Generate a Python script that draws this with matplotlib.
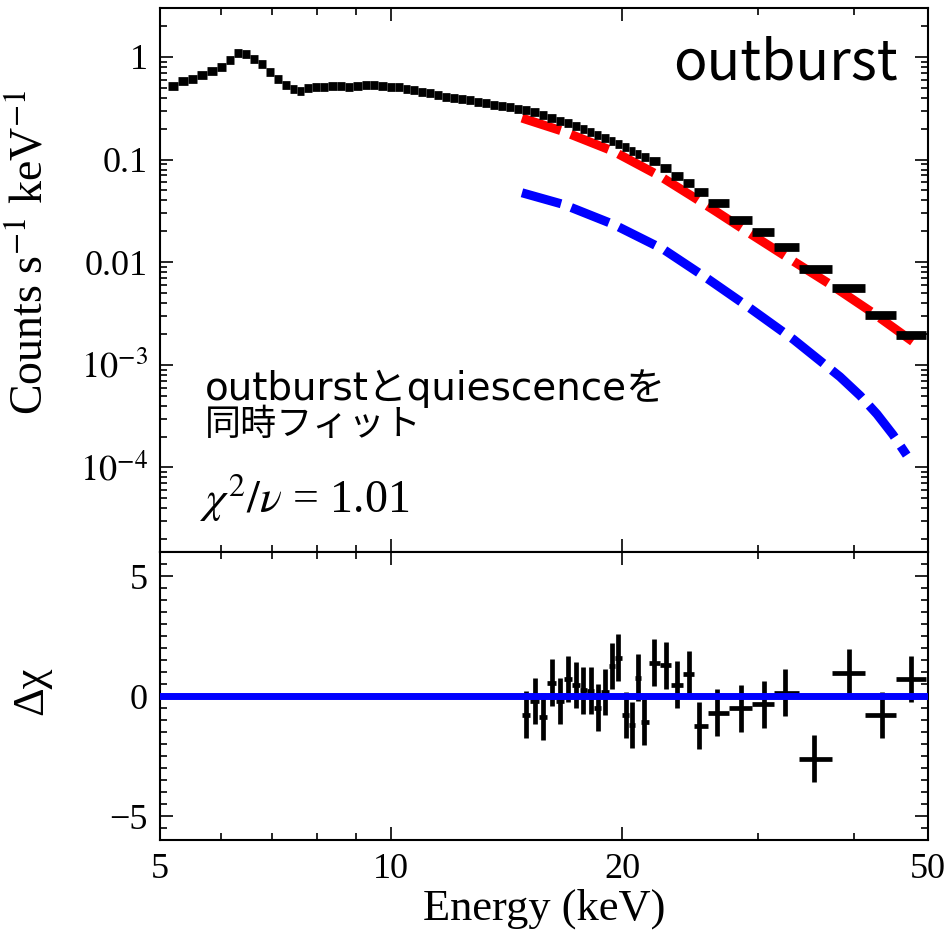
import numpy as np
import matplotlib.pyplot as plt
from matplotlib.ticker import FixedLocator, FixedFormatter, MultipleLocator, LogLocator, NullFormatter

plt.rcParams['font.family'] = ['Liberation Serif', 'DejaVu Serif']
plt.rcParams['mathtext.fontset'] = 'stix'

# spectrum below the fit range (keV, counts/s/keV)
e_lo = [5.20, 5.36, 5.51, 5.67, 5.84, 6.01, 6.17, 6.32, 6.47, 6.63,
        6.80, 6.96, 7.12, 7.29, 7.46, 7.61, 7.78, 7.98, 8.17, 8.39,
        8.60, 8.81, 9.04, 9.27, 9.49, 9.74, 9.99, 10.23, 10.47, 10.70,
        10.96, 11.23, 11.50, 11.78, 12.07, 12.36, 12.66, 12.97, 13.28, 13.60,
        13.93, 14.27, 14.62]
rate_lo = [0.523, 0.589, 0.612, 0.673, 0.731, 0.805, 0.935, 1.10, 1.07, 0.956,
           0.849, 0.720, 0.608, 0.535, 0.486, 0.471, 0.497, 0.511, 0.515, 0.519,
           0.523, 0.511, 0.526, 0.538, 0.538, 0.526, 0.515, 0.508, 0.486, 0.473,
           0.457, 0.442, 0.423, 0.404, 0.396, 0.387, 0.378, 0.366, 0.354, 0.342,
           0.331, 0.323, 0.313]

# fitted channels
e_fit = [14.99, 15.37, 15.76, 16.18, 16.59, 17.00, 17.40, 17.79, 18.19, 18.58,
         18.99, 19.39, 19.76, 20.20, 20.59, 20.98, 21.36, 21.97, 22.78, 23.56,
         24.40, 25.16, 26.57, 28.53, 30.55, 32.54, 35.50, 39.50, 43.50, 47.50]
rate_fit = [0.302, 0.289, 0.270, 0.256, 0.239, 0.226, 0.212, 0.198, 0.185, 0.173,
            0.162, 0.153, 0.143, 0.132, 0.122, 0.114, 0.106, 0.0963, 0.0823, 0.0689,
            0.0598, 0.0486, 0.0374, 0.0257, 0.0196, 0.0140, 0.00861, 0.00563, 0.00308, 0.00194]
resid = [-0.78, -0.20, -0.86, 0.56, -0.21, 0.71, 0.45, 0.24, 0.22, -0.49,
         0.17, 1.25, 1.60, -0.79, -1.20, 0.76, -1.08, 1.39, 1.28, 0.47,
         0.90, -1.23, -0.69, -0.51, -0.35, 0.14, -2.61, 0.97, -0.79, 0.70]
resid_err = 0.97

# model components
e_out = [14.8, 16.76, 19.47, 22.39, 24.74, 26.54, 29.3, 33.4, 37.6, 42.4, 47.9]
m_out = [0.254, 0.188, 0.1204, 0.0689, 0.0432, 0.0309, 0.0191, 0.01022, 0.00585, 0.00320, 0.00166]
e_qui = [14.8, 16.76, 19.47, 22.61, 25.76, 29.3, 33.4, 38.4, 40.8, 42.9, 45.0, 46.9]
m_qui = [0.0475, 0.03656, 0.02338, 0.01337, 0.00699, 0.00358, 0.00177, 0.000765,
         0.000500, 0.000331, 0.000209, 0.000132]

energy = np.array(e_lo + e_fit)
rate = np.array(rate_lo + rate_fit)
# channel edges halfway (in log) between neighbours
mid = np.sqrt(energy[1:] * energy[:-1])
lo_edge = np.concatenate([[energy[0] ** 2 / mid[0]], mid])
hi_edge = np.concatenate([mid, [energy[-1] ** 2 / mid[-1]]])
xerr = np.array([energy - lo_edge, hi_edge - energy])
nfit = len(e_fit)

fig = plt.figure(figsize=(9.49, 9.32), dpi=100)
ax1 = fig.add_axes([0.1686, 0.4077, 0.8093, 0.5837])
ax2 = fig.add_axes([0.1686, 0.0987, 0.8093, 0.3090])

dash = (0, (4.5, 1.2))
ax1.plot(e_out, m_out, color='red', lw=6.5, ls=dash, zorder=2)
ax1.plot(e_qui, m_qui, color='blue', lw=6.5, ls=dash, zorder=2)
ax1.errorbar(energy, rate, xerr=xerr, fmt='none', ecolor='black', elinewidth=6.3, capsize=0, zorder=3)

ax2.errorbar(e_fit, resid, xerr=xerr[:, -nfit:], yerr=resid_err, fmt='none',
             ecolor='black', elinewidth=3.4, capsize=0, zorder=2)
ax2.axhline(0, color='blue', lw=5, zorder=3)

for ax in (ax1, ax2):
    ax.set_xscale('log')
    ax.set_xlim(5, 50)
    ax.xaxis.set_major_locator(FixedLocator([5, 10, 20, 50]))
    ax.xaxis.set_major_formatter(FixedFormatter(['5', '10', '20', '50']))
    ax.xaxis.set_minor_locator(FixedLocator([6, 7, 8, 9, 30, 40]))
    ax.xaxis.set_minor_formatter(NullFormatter())
    ax.tick_params(which='both', direction='in', top=True, right=True, width=1.2, labelsize=26, pad=9)
    ax.tick_params(which='major', length=9.5)
    ax.tick_params(which='minor', length=5)
    for s in ax.spines.values():
        s.set_linewidth(1.5)

ax1.set_yscale('log')
ax1.set_ylim(1.5e-5, 3.0)
ax1.yaxis.set_major_locator(FixedLocator([1e-4, 1e-3, 1e-2, 0.1, 1]))
ax1.yaxis.set_major_formatter(FixedFormatter([r'$10^{-4}$', r'$10^{-3}$', '0.01', '0.1', '1']))
ax1.yaxis.set_minor_locator(LogLocator(base=10, subs=np.arange(2, 10), numticks=20))
ax1.yaxis.set_minor_formatter(NullFormatter())
ax1.tick_params(labelbottom=False)

ax2.set_ylim(-6, 6)
ax2.yaxis.set_major_locator(FixedLocator([-5, 0, 5]))
ax2.yaxis.set_major_formatter(FixedFormatter(['\u22125', '0', '5']))
ax2.yaxis.set_minor_locator(MultipleLocator(0.5))

ax1.set_ylabel(r'Counts s$^{\mathrm{-1}}$ keV$^{\mathrm{-1}}$', fontsize=33)
ax1.yaxis.set_label_coords(-0.141, 0.551)
ax2.set_ylabel('Δχ', fontsize=32)
ax2.yaxis.set_label_coords(-0.141, 0.52)
ax2.set_xlabel('Energy (keV)', fontsize=32, labelpad=2)

jp = ['DejaVu Sans', 'Noto Sans CJK JP']
ax1.text(0.961, 0.868, 'outburst', transform=ax1.transAxes, ha='right', va='baseline',
         fontsize=40, family=['Noto Sans CJK JP'])
ax1.text(0.0586, 0.279, 'outburstとquiescenceを', transform=ax1.transAxes, va='baseline',
         fontsize=28, family=jp)
ax1.text(0.0586, 0.2150, '同時フィット', transform=ax1.transAxes, va='baseline',
         fontsize=26, family=jp)
ax1.text(0.052, 0.0717, r'$\chi^2/\nu$ = 1.01', transform=ax1.transAxes, va='baseline',
         fontsize=33)

fig.savefig('out.png', dpi=100)
